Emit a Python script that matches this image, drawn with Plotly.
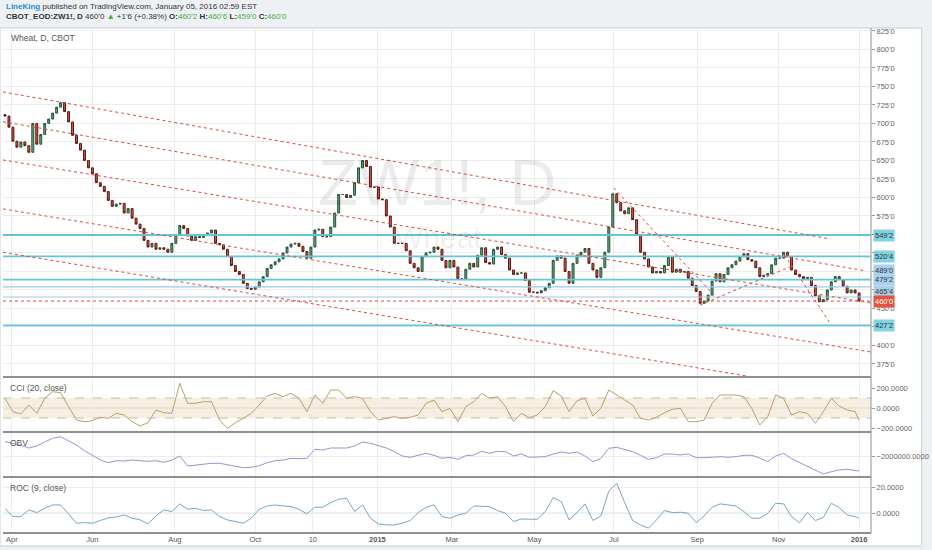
import plotly.graph_objects as go
from plotly.subplots import make_subplots

W, H = 932, 550
ML, MR, MT, MB = 3, 55, 28, 17

# ZW1! closes, one bar per two trading days, late Mar 2014 -> 4 Jan 2016
closes = [
    710, 695, 676, 668, 675, 670, 661, 700, 672, 685,
    700, 706, 714, 722, 728, 716, 702, 684, 673, 664,
    650, 640, 632, 620, 615, 608, 596, 588, 591, 592,
    579, 585, 572, 564, 558, 542, 533, 538, 530, 532,
    530, 526, 538, 550, 562, 558, 548, 542, 547, 546,
    549, 552, 556, 538, 536, 530, 520, 508, 500, 496,
    484, 477, 476, 479, 486, 493, 504, 509, 513, 517,
    525, 533, 537, 538, 534, 527, 518, 533, 556, 557,
    547, 547, 560, 579, 604, 604, 600, 603, 620, 640,
    650, 642, 614, 614, 598, 597, 575, 560, 538, 538,
    538, 528, 511, 505, 500, 520, 525, 526, 533, 530,
    515, 505, 515, 506, 490, 490, 503, 511, 506, 522,
    532, 512, 510, 530, 533, 523, 518, 502, 496, 498,
    498, 488, 472, 472, 471, 474, 478, 484, 515, 521,
    518, 500, 484, 511, 522, 526, 531, 511, 502, 492,
    505, 526, 560, 605, 593, 582, 578, 586, 570, 550,
    526, 517, 506, 498, 500, 498, 508, 520, 499, 503,
    499, 500, 491, 481, 473, 457, 460, 468, 487, 497,
    486, 496, 505, 509, 514, 520, 524, 516, 514, 505,
    493, 495, 497, 509, 518, 518, 526, 520, 502, 496,
    493, 490, 492, 481, 467, 459, 462, 475, 486, 493,
    489, 480, 471, 475, 471, 460,
]
first_open = 712

# indicator readings, every second bar plus the last one
cci = [
    97, -37, -60, 30, -53, 97, 163, 153, 13, -120,
    -137, -127, -93, -103, -53, -70, -137, -180, -147, -20,
    -47, -53, 247, 47, 47, 63, 63, -120, -203, -147,
    -103, -53, 30, 120, 147, 113, 147, 97, -37, 130,
    47, 180, 180, 97, 113, 97, -37, -120, -103, -87,
    -103, -93, -70, 47, 80, -37, -3, -137, 13, 63,
    147, 97, 113, 13, -137, -53, -97, -70, 13, 173,
    120, -37, 73, 97, -80, -3, 180, 130, 80, 30,
    -103, -120, -93, -47, -13, -3, -137, -137, -120, 47,
    130, 130, 130, 113, -3, -170, -87, 130, 97, -70,
    -37, -53, -153, -37, 97, 20, -20, -37, -120,
]
obv = [
    -570000, -730000, -930000, -1200000, -1000000, -600000, -230000, -70000, -470000, -900000,
    -1470000, -1900000, -2400000, -2670000, -2470000, -2500000, -2400000, -2470000, -2530000, -2470000,
    -2630000, -2400000, -2000000, -3000000, -2900000, -2800000, -2730000, -2730000, -2900000, -3070000,
    -3170000, -3130000, -2970000, -2670000, -2470000, -2400000, -2230000, -2270000, -2230000, -1330000,
    -1400000, -1200000, -1170000, -1200000, -1000000, -600000, -730000, -930000, -1200000, -1570000,
    -2000000, -2130000, -1930000, -1730000, -1930000, -2230000, -2130000, -2330000, -1970000, -1900000,
    -1530000, -1730000, -1530000, -1570000, -2000000, -1800000, -2130000, -2130000, -2070000, -1800000,
    -1600000, -1730000, -1600000, -2000000, -2570000, -2230000, -1230000, -1130000, -1330000, -1570000,
    -1930000, -2330000, -2170000, -1800000, -1800000, -1900000, -1800000, -2170000, -2170000, -2130000,
    -2070000, -2130000, -2070000, -1930000, -1930000, -2200000, -2570000, -2000000, -1730000, -2270000,
    -2670000, -3000000, -3400000, -3800000, -3570000, -3400000, -3330000, -3470000, -3500000,
]
roc = [
    3.8, -2.6, -2.6, 2.6, 0.5, 3.8, 6.4, 6.4, -0.5, -7.7,
    -7.2, -7.7, -5.6, -3.6, -2.8, -1.3, -3.8, -5.1, -8.2, -2.1,
    2.6, 1.3, 7.2, 3.1, 3.8, 2.1, 2.6, -2.6, -5.1, -6.4,
    -7.7, -3.8, 3.1, 5.6, 6.4, 5.6, 5.1, 3.1, -0.5, 4.6,
    4.6, 8.2, 10.8, 11.5, 1.3, 6.4, -3.8, -8.2, -9.0, -9.0,
    -7.7, -5.6, 0.5, 4.6, 6.4, -2.6, -3.8, -1.3, 0.0, 5.6,
    5.1, 5.1, 2.1, 0.0, -6.4, -4.4, -4.6, -4.6, 1.3, 12.1,
    9.0, -5.1, 0.5, 7.2, -5.6, -2.1, 17.0, 23.0, 8.2, -5.6,
    -9.0, -11.5, -5.1, 2.1, 0.5, 0.8, 0.0, -7.2, -2.1, 4.6,
    7.2, 6.4, 5.6, 1.3, -3.8, -3.8, 0.0, 7.7, 7.2, -2.6,
    -7.2, 0.5, -5.6, -3.3, 7.7, 4.4, -1.3, -2.6, -3.8,
]

# time axis labels (bar positions)
tick_pos = [1.75, 22, 42.75, 63, 77.5, 93.75, 112.5, 133.25, 153.25, 174.25, 194.75, 215]
tick_text = ["Apr", "Jun", "Aug", "Oct", "10", "<b>2015</b>", "Mar", "May", "Jul", "Sep", "Nov", "<b>2016</b>"]

# horizontal levels drawn on the chart
levels = [549.25, 520.5, 489.0, 479.25, 465.5, 427.25]
level_text = ["549'2", "520'4", "489'0", "479'2", "465'4", "427'2"]
last_price = 460.0

# red dotted trend lines: (bar0, price0, bar1, price1)
trend_lines = [
    (-0.5, 742.6, 207.75, 543.9),
    (-0.5, 702.4, 216.75, 500.7),
    (-0.5, 650.7, 218, 457.4),
    (-0.5, 584.5, 218, 391.2),
    (-0.5, 526.0, 187.5, 358.0),
    (153.25, 612.8, 177.75, 472.3),
    (196.25, 522.3, 207.5, 431.8),
    (175.0, 454.7, 198.75, 508.8),
]

bars = list(range(len(closes)))
opens = [first_open] + closes[:-1]
highs = [max(o, c) for o, c in zip(opens, closes)]
lows = [min(o, c) for o, c in zip(opens, closes)]
ind_x = list(range(0, len(closes), 2)) + [len(closes) - 1]


def px_x(px):
    return (px - ML) / (W - ML - MR)


def px_y(py):
    return (H - MB - py) / (H - MT - MB)


FONT = "Liberation Sans, Arial, sans-serif"
GRID = "#ececec"
RED = "#e0483c"

fig = make_subplots(rows=4, cols=1, shared_xaxes=True, vertical_spacing=0,
                    row_heights=[349, 55, 45, 56])

fig.add_trace(go.Candlestick(
    x=bars, open=opens, high=highs, low=lows, close=closes,
    increasing=dict(fillcolor="#6ba583", line=dict(color="#225437", width=1)),
    decreasing=dict(fillcolor="#d75442", line=dict(color="#5b1a13", width=1)),
    whiskerwidth=0, showlegend=False, hoverinfo="skip",
), row=1, col=1)
fig.add_trace(go.Scatter(x=ind_x, y=cci, mode="lines", line=dict(color="#b8a06a", width=1),
                         showlegend=False, hoverinfo="skip"), row=2, col=1)
fig.add_trace(go.Scatter(x=ind_x, y=obv, mode="lines", line=dict(color="#8e97d4", width=1),
                         showlegend=False, hoverinfo="skip"), row=3, col=1)
fig.add_trace(go.Scatter(x=ind_x, y=roc, mode="lines", line=dict(color="#73a8c4", width=1),
                         showlegend=False, hoverinfo="skip"), row=4, col=1)

shapes = []
# panel frame
shapes.append(dict(type="rect", xref="paper", yref="paper", x0=px_x(0), x1=px_x(928),
                   y0=px_y(28), y1=px_y(546), fillcolor="white",
                   line=dict(color="#c9cdd2", width=1), layer="below"))

# CCI band
shapes.append(dict(type="rect", xref="x2 domain", yref="y2", x0=0, x1=1, y0=-100, y1=100,
                   fillcolor="#f6eee1", line=dict(width=0), layer="below"))
for v in (100, -100):
    shapes.append(dict(type="line", xref="x2 domain", yref="y2", x0=0, x1=1, y0=v, y1=v,
                       line=dict(color="#c8bca8", width=1, dash="dash"), layer="below"))
shapes.append(dict(type="line", xref="x2 domain", yref="y2", x0=0, x1=1, y0=0, y1=0,
                   line=dict(color="#e2d8c8", width=1), layer="below"))
# ROC zero line
shapes.append(dict(type="line", xref="x4 domain", yref="y4", x0=0, x1=1, y0=0, y1=0,
                   line=dict(color="#b9c9d3", width=1), layer="below"))

# levels
for lv in levels:
    thin = lv in (479.25, 465.5)
    shapes.append(dict(type="line", xref="x domain", yref="y", x0=0, x1=1, y0=lv, y1=lv,
                       line=dict(color="#9fc8e8" if thin else "#62c6d8", width=1.2 if thin else 1.8)))
shapes.append(dict(type="line", xref="x domain", yref="y", x0=0, x1=1, y0=last_price, y1=last_price,
                   line=dict(color=RED, width=1, dash="dot")))
for x0, y0, x1, y1 in trend_lines:
    shapes.append(dict(type="line", xref="x", yref="y", x0=x0, y0=y0, x1=x1, y1=y1,
                       line=dict(color=RED, width=1, dash="dot")))

# pane separators and axis line
for py in (377, 432, 477, 533):
    shapes.append(dict(type="line", xref="paper", yref="paper", x0=px_x(3), x1=px_x(877),
                       y0=px_y(py), y1=px_y(py), line=dict(color="#8f8f8f", width=2)))
shapes.append(dict(type="line", xref="paper", yref="paper", x0=px_x(877), x1=px_x(877),
                   y0=px_y(28), y1=px_y(533), line=dict(color="#8f8f8f", width=1)))

annotations = [
    dict(xref="paper", yref="paper", x=px_x(4), y=px_y(7), xanchor="left", yanchor="middle",
         showarrow=False, font=dict(size=8, color="#333", family=FONT),
         text='<span style="color:#2b89d6"><b>LineKing</b></span> published on TradingView.com, '
              'January 05, 2016 02:59 EST'),
    dict(xref="paper", yref="paper", x=px_x(4), y=px_y(17), xanchor="left", yanchor="middle",
         showarrow=False, font=dict(size=8, color="#333", family=FONT),
         text="<b>CBOT_EOD:ZW1!, D</b> 460'0 <span style=\"color:#3cb043\">▲</span> +1'6 (+0.38%) "
              "<b>O:</b><span style=\"color:#3cb043\">460'2</span> "
              "<b>H:</b><span style=\"color:#3cb043\">460'6</span> "
              "<b>L:</b><span style=\"color:#3cb043\">459'0</span> "
              "<b>C:</b><span style=\"color:#3cb043\">460'0</span>"),
    dict(xref="paper", yref="paper", x=px_x(9), y=px_y(38), xanchor="left", yanchor="middle",
         showarrow=False, font=dict(size=8.5, color="#555", family=FONT), text="Wheat, D, CBOT"),
    dict(xref="paper", yref="paper", x=px_x(440), y=px_y(182), xanchor="center", yanchor="middle",
         showarrow=False, font=dict(size=65, color="rgba(0,0,0,0.08)", family=FONT), text="ZW1!, D"),
    dict(xref="paper", yref="paper", x=px_x(442), y=px_y(237), xanchor="center", yanchor="middle",
         showarrow=False, font=dict(size=30, color="rgba(0,0,0,0.07)", family=FONT), text="Wheat"),
    dict(xref="paper", yref="paper", x=px_x(8), y=px_y(388), xanchor="left", yanchor="middle",
         showarrow=False, font=dict(size=8.5, color="#555", family=FONT), text="CCI (20, close)"),
    dict(xref="paper", yref="paper", x=px_x(8), y=px_y(443), xanchor="left", yanchor="middle",
         showarrow=False, font=dict(size=8.5, color="#555", family=FONT), text="OBV"),
    dict(xref="paper", yref="paper", x=px_x(8), y=px_y(488), xanchor="left", yanchor="middle",
         showarrow=False, font=dict(size=8.5, color="#555", family=FONT), text="ROC (9, close)"),
]

# price labels on the scale (stacked ones nudged up like on the original)
label_shift = {489.0: 9, 479.25: 7, 465.5: 6}
for lv, txt in zip(levels, level_text):
    pale = lv in label_shift
    annotations.append(dict(xref="paper", yref="y", x=px_x(879), y=lv, xanchor="left",
                            yanchor="middle", yshift=label_shift.get(lv, 0), showarrow=False,
                            text=txt, bgcolor="#a9d1ee" if pale else "#80d4e2", borderpad=1,
                            font=dict(size=7.5, color="#333", family=FONT)))
annotations.append(dict(xref="paper", yref="y", x=px_x(879), y=last_price, xanchor="left",
                        yanchor="middle", showarrow=False, text="460'0", bgcolor="#e5533c",
                        borderpad=1, font=dict(size=7.5, color="white", family=FONT)))

fig.update_layout(
    width=W, height=H,
    margin=dict(l=ML, r=MR, t=MT, b=MB),
    paper_bgcolor="#eef1f4", plot_bgcolor="white",
    font=dict(family=FONT, size=7.5, color="#555"),
    showlegend=False, hovermode=False,
    shapes=shapes, annotations=annotations,
)

fig.update_xaxes(range=[-0.5, 218], tickvals=tick_pos, ticktext=tick_text, showgrid=True,
                 gridcolor=GRID, zeroline=False, showline=False, ticks="",
                 rangeslider_visible=False, tickfont=dict(size=7.5, color="#555"))
for r in (1, 2, 3):
    fig.update_xaxes(showticklabels=False, row=r, col=1)
fig.update_xaxes(showticklabels=True, row=4, col=1)

yopts = dict(side="right", showgrid=True, gridcolor=GRID, zeroline=False, showline=False,
             ticks="outside", ticklen=3, tickcolor="#999", tickfont=dict(size=7.5, color="#666"))
price_ticks = list(range(375, 826, 25))
# labels hidden behind the level boxes on the original are left blank
hidden = {425, 475, 500, 525, 550}
fig.update_yaxes(range=[357.4, 829], tickvals=price_ticks,
                 ticktext=["" if v in hidden else f"{v}'0" for v in price_ticks],
                 row=1, col=1, **yopts)
fig.update_yaxes(range=[-240, 310], tickvals=[-200, 0, 200], tickformat=".4f", row=2, col=1,
                 **{**yopts, "showgrid": False})
fig.update_yaxes(range=[-4100000, 400000], tickvals=[-2000000], tickformat=".4f", row=3, col=1, **yopts)
fig.update_yaxes(range=[-15.2, 27.9], tickvals=[0, 20], tickformat=".4f", row=4, col=1, **yopts)

fig.write_html("out.html", config={"displayModeBar": False},
               post_script="document.body.style.margin='0';")
